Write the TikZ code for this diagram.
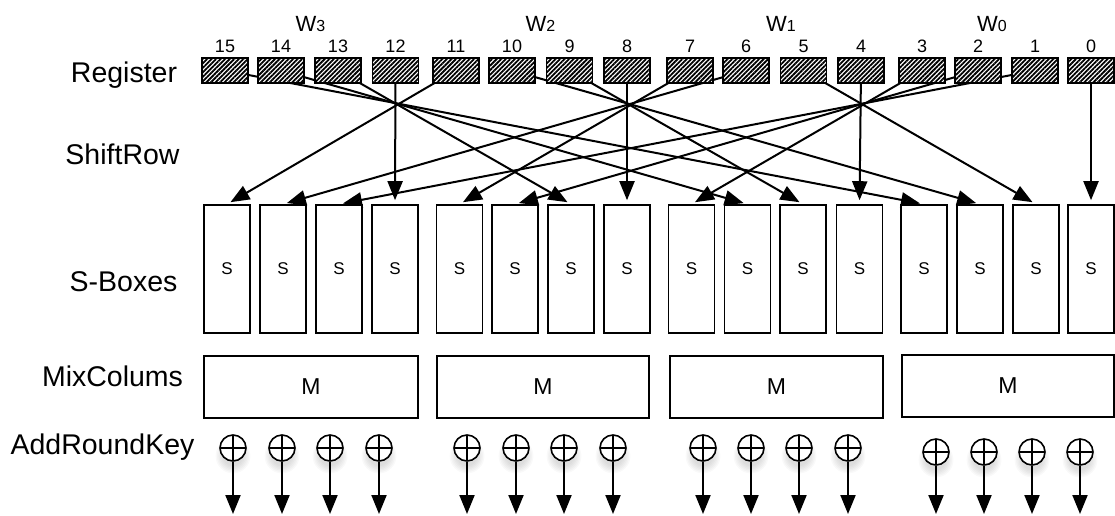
\documentclass[tikz,border=0pt]{standalone}
\usepackage{fontspec}
\setmainfont{Liberation Sans}
\usetikzlibrary{arrows.meta,patterns.meta,backgrounds}
\begin{document}
\begin{tikzpicture}[x=1pt,y=-1pt,
  reg/.style={draw, line width=1.7pt, minimum width=46pt, minimum height=25pt, inner sep=0pt,
    preaction={fill=white}, pattern={Lines[angle=45,distance=3.2pt,line width=1.8pt]}},
  sbox/.style={draw, line width=1.6pt, minimum width=46pt, minimum height=128pt, inner sep=0pt, fill=white,
    font=\fontsize{17}{17}\selectfont},
  mbox/.style={draw, line width=1.7pt, minimum height=62pt, inner sep=0pt, fill=white,
    font=\fontsize{23}{23}\selectfont},
  lab/.style={font=\fontsize{28.5}{30}\selectfont, inner sep=0pt},
  num/.style={font=\fontsize{18}{18}\selectfont, inner sep=0pt},
  wlab/.style={font=\fontsize{22}{22}\selectfont, inner sep=0pt},
  conn/.style={line width=2pt, -{Triangle[length=19pt,width=15pt]}},
  xor/.style={circle, draw, line width=1.6pt, minimum size=26pt, inner sep=0pt, fill=white,
    path picture={\draw[line width=1.5pt] (path picture bounding box.north) -- (path picture bounding box.south)
      (path picture bounding box.west) -- (path picture bounding box.east);}},
]
\useasboundingbox (0,0) rectangle (1115,515);
% left labels
\node[lab] (lreg) at (124,75) {Register};
\node[lab] (lsr) at (122.5,154) {ShiftRow};
\node[lab] (lsb) at (123.5,282) {S-Boxes};
\node[lab] (lmc) at (112.5,376) {MixColums};
\node[lab] (lark) at (102.5,447) {AddRoundKey};
% word labels
\node[wlab] (w3) at (310.5,24) {W{\fontsize{16}{16}\selectfont 3}};
\node[wlab] (w2) at (540.5,24) {W{\fontsize{16}{16}\selectfont 2}};
\node[wlab] (w1) at (781,24) {W{\fontsize{16}{16}\selectfont 1}};
\node[wlab] (w0) at (992,24) {W{\fontsize{16}{16}\selectfont 0}};
% register
\foreach \r/\x in {15/225,14/281,13/338,12/395.5,11/456,10/512,9/569.5,8/627,7/690,6/746,5/803.5,4/861,3/922,2/978,1/1035,0/1091}{
  \node[reg] (r\r) at (\x,70.5) {};
  \node[num] (n\r) at (\x,46) {\r};
}
% S-boxes
\foreach \p/\x in {15/227,14/283,13/339,12/395,11/459.5,10/515,9/571,8/627,7/691.5,6/747.5,5/803,4/859.5,3/924,2/980,1/1036,0/1091}{
  \node[sbox] (s\p) at (\x,269) {S};
}
% ShiftRow connections
\begin{scope}[on background layer]
\foreach \r/\p in {15/3,14/6,13/9,12/12,11/15,10/2,9/5,8/8,7/11,6/14,5/1,4/4,3/7,2/10,1/13,0/0}{
  \draw[conn, shorten >=4pt] (r\r.center) -- (s\p.north);
}
\end{scope}
% MixColumns
\node[mbox, minimum width=214pt] (m3) at (311,387) {M};
\node[mbox, minimum width=212pt] (m2) at (543,387) {M};
\node[mbox, minimum width=213pt] (m1) at (776.5,387) {M};
\node[mbox, minimum width=212pt] (m0) at (1008,386) {M};
% AddRoundKey
\foreach \i/\x/\y in {1/233/448,2/282/448,3/330/448,4/379/448,5/467/448,6/516/448,7/564/448,8/613/448,
  9/703/448,10/751/448,11/799/448,12/848/448,13/936/452,14/984/452,15/1032/452,16/1080/452}{
  \foreach \k in {1,...,6}{
    \fill[black, opacity=0.025] (\x,\y+8) circle ({9+1.4*\k});
  }
  \node[xor] (x\i) at (\x,\y) {};
  \coordinate (o\i) at (\x,514);
  \draw[conn] (x\i.south) -- (o\i);
}
\end{tikzpicture}
\end{document}
